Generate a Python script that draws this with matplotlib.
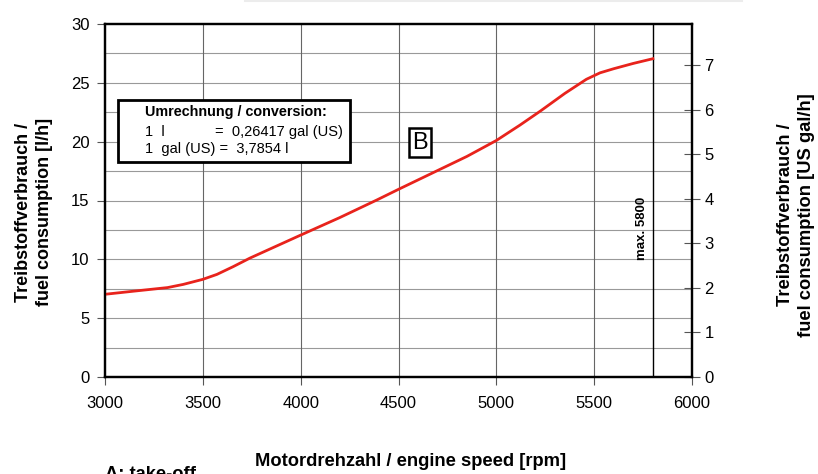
import matplotlib.pyplot as plt
from matplotlib.patches import Rectangle
from matplotlib.lines import Line2D

plt.rcParams['font.family'] = ['Liberation Sans', 'DejaVu Sans']

# Fuel consumption curve
rpm = [3000, 3150, 3320, 3400, 3500, 3572, 3654, 3740, 4000, 4200, 4390, 4500,
       4700, 4850, 5000, 5120, 5225, 5350, 5460, 5530, 5600, 5700, 5800]
fuel_lh = [7.03, 7.3, 7.6, 7.87, 8.3, 8.72, 9.37, 10.1, 12.06, 13.55, 15.05, 15.95,
           17.55, 18.75, 20.1, 21.4, 22.6, 24.1, 25.3, 25.85, 26.2, 26.65, 27.05]

x_ticks = [3000, 3500, 4000, 4500, 5000, 5500, 6000]
y_ticks = [0, 5, 10, 15, 20, 25, 30]
gal_ticks = [0, 1, 2, 3, 4, 5, 6, 7]
l_per_gal = 3.7854
max_rpm = 5800

fig = plt.figure(figsize=(8.18, 4.74), dpi=100)
ax = fig.add_axes([105 / 818, 97 / 474, 587 / 818, 353 / 474])

# faint line at the very top of the page
fig.add_artist(Line2D([245 / 818, 742 / 818], [0.998, 0.998], color='#ececec', lw=1.5))

# grid
for v in [2.5 * i for i in range(1, 12)]:
    ax.axhline(v, color='#999999', lw=0.8, zorder=0)
for v in x_ticks[1:-1]:
    ax.axvline(v, color='#666666', lw=0.8, zorder=0)
ax.axvline(max_rpm, color='black', lw=1.0, zorder=1)

ax.plot(rpm, fuel_lh, color='#e8231c', lw=2, zorder=3)

ax.set_xlim(3000, 6000)
ax.set_ylim(0, 30)
ax.set_xticks(x_ticks)
ax.set_yticks(y_ticks)
ax.tick_params(direction='out', length=6, labelsize=12, width=0.8, color='#555555')
ax.tick_params(axis='x', pad=8)
ax.tick_params(axis='y', pad=5)
for s in ax.spines.values():
    s.set_linewidth(1.6)

# right axis in US gal/h
ax2 = ax.twinx()
ax2.set_ylim(0, 30 / l_per_gal)
ax2.set_yticks(gal_ticks)
ax2.tick_params(direction='inout', length=12, labelsize=12, width=0.8,
                color='#555555', pad=3)
for s in ax2.spines.values():
    s.set_linewidth(1.6)

fig.text(34 / 818, 1 - 212 / 474, 'Treibstoffverbrauch /\nfuel consumption [l/h]',
         fontsize=13, fontweight='bold', rotation=90, ha='center', va='center',
         linespacing=1.3)
fig.text(796 / 818, 1 - 215 / 474, 'Treibstoffverbrauch /\nfuel consumption [US gal/h]',
         fontsize=13.2, fontweight='bold', rotation=90, ha='center', va='center',
         linespacing=1.3)
fig.text(411 / 818, 1 - 462 / 474, 'Motordrehzahl / engine speed [rpm]',
         fontsize=13.2, fontweight='bold', ha='center', va='center')

# conversion box
ax.add_patch(Rectangle((0.022, 0.609), 0.395, 0.176, transform=ax.transAxes,
                       fill=False, ec='black', lw=2, zorder=4))
ax.add_patch(Rectangle((0.022, 0.609), 0.395, 0.176, transform=ax.transAxes,
                       fc='white', ec='none', zorder=2))
ax.text(0.068, 0.751, 'Umrechnung / conversion:', transform=ax.transAxes,
        fontsize=10.4, fontweight='bold', va='center', zorder=5)
ax.text(0.068, 0.694, '1  l', transform=ax.transAxes, fontsize=10.5, va='center', zorder=5)
ax.text(0.187, 0.694, '=  0,26417 gal (US)', transform=ax.transAxes, fontsize=10.5,
        va='center', zorder=5)
ax.text(0.068, 0.646, '1  gal (US) =  3,7854 l', transform=ax.transAxes, fontsize=10.5,
        va='center', zorder=5)

# B marker
ax.text(4610, 19.9, 'B', fontsize=17, ha='center', va='center', zorder=5,
        bbox=dict(boxstyle='square,pad=0.15', fc='white', ec='black', lw=1.8))

ax.text(5744, 12.66, 'max. 5800', rotation=90, fontsize=9.5, fontweight='bold',
        ha='center', va='center', zorder=5)

fig.text(105 / 818, 1 - 466 / 474, 'A: take-off', fontsize=13.2,
         fontweight='bold', va='top')

fig.savefig('out.png', dpi=100)
